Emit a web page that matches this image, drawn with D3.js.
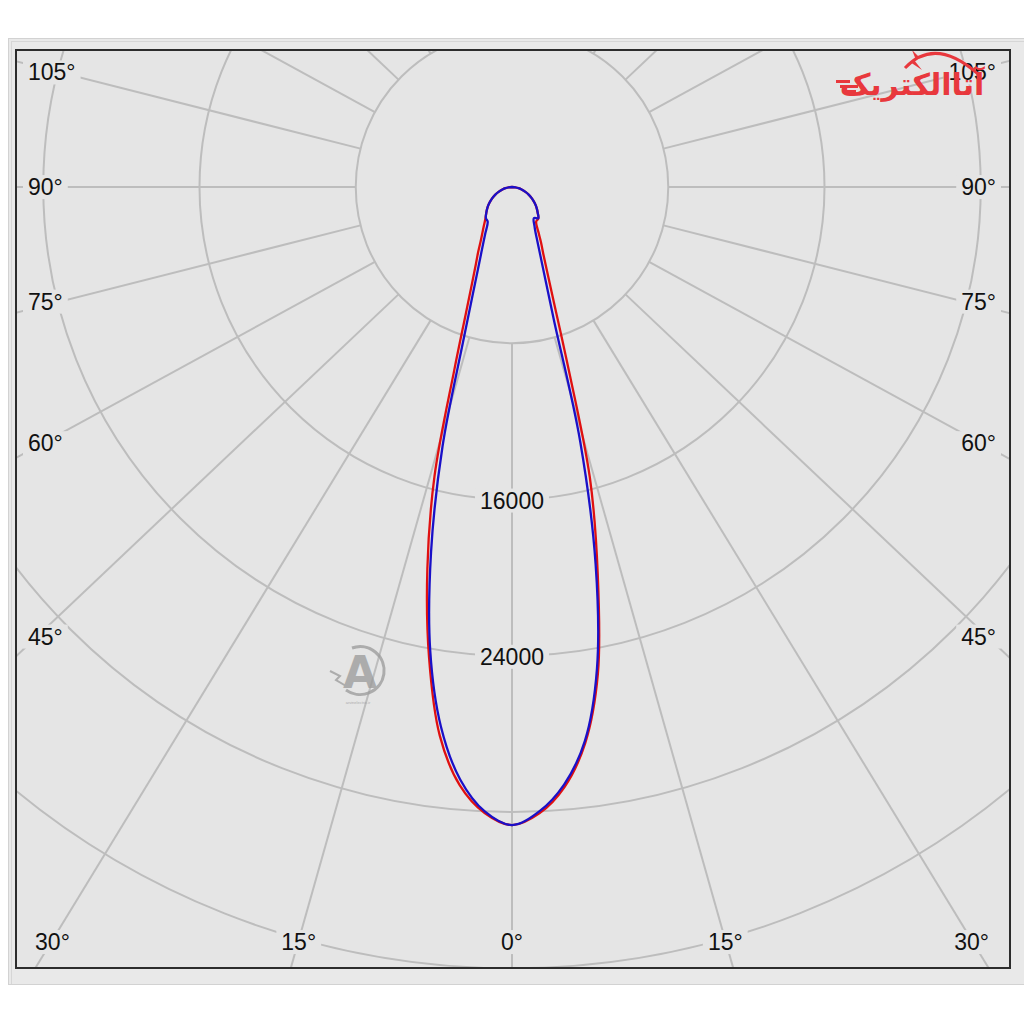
<!DOCTYPE html>
<html><head><meta charset="utf-8">
<script src="https://cdn.jsdelivr.net/npm/d3@7"></script>
<style>html,body{margin:0;padding:0;background:#fff;}svg{display:block}</style>
</head><body><svg id="chart" width="1024" height="1024"></svg>
<script>
// ---- data (luminous intensity, cd) ----
const angles   = [0,2.5,5,7.5,10,12.5,15,17.5,20,22.5,25,27.5,30,35,40,45,50,55,60,65,70,75,80,85,90];
const redC0    = [32670,32100,30840,28720,25320,20280,15400,9320,6260,4720,3800,3230,2740,2160,2100,1860,1640,1410,1185,955,730,510,340,170,0];
const redC180  = [32670,32080,30740,28330,24460,20020,15330,9830,6920,5350,4390,3750,3210,2550,2120,1860,1640,1410,1185,955,730,510,340,170,0];
const blueC90  = [32670,32000,30700,28600,25050,19780,13500,7125,4940,3790,3080,2600,2300,1950,2090,1860,1640,1410,1185,955,730,510,340,170,0];
const blueC270 = [32670,32000,30450,27870,24110,19150,13740,8365,5900,4555,3720,3150,2725,2170,2080,1860,1640,1410,1185,955,730,510,340,170,0];
const rings      = [8000,16000,24000,32000,40000];
const ringLabels = [16000,24000];
const spokeAngles = [0,15,30,45,60,75,90,105,120,135,150,165];
const angleTicks  = [0,15,30,45,60,75,90,105];

// ---- layout ----
const svg = d3.select("#chart");
const cx = 512, cy = 187;
const frame = {x0:16, y0:50, x1:1010, y1:968};
const spokeAspect = 1.057;
const r = d3.scaleLinear().domain([0,8000]).range([0,156.25]);
const gridColor = "#bdbdbd", plotBg = "#e5e5e5";
const font = "'Liberation Sans', Arial, sans-serif";

// panel
svg.append("rect").attr("x",8.5).attr("y",38.5).attr("width",1030).attr("height",946)
  .attr("fill","#e9e9e9").attr("stroke","#d2d2d2");
svg.append("line").attr("x1",11.5).attr("x2",11.5).attr("y1",41).attr("y2",984).attr("stroke","#d6d6d6");
svg.append("line").attr("x1",11).attr("x2",1024).attr("y1",41.5).attr("y2",41.5).attr("stroke","#d6d6d6");

svg.append("defs").append("clipPath").attr("id","clip").append("rect")
  .attr("x",frame.x0).attr("y",frame.y0).attr("width",frame.x1-frame.x0).attr("height",frame.y1-frame.y0);
svg.append("rect").attr("x",frame.x0).attr("y",frame.y0).attr("width",frame.x1-frame.x0).attr("height",frame.y1-frame.y0)
  .attr("fill",plotBg);

const plot = svg.append("g").attr("clip-path","url(#clip)");
const g = plot.append("g").attr("transform",`translate(${cx},${cy})`);

// rings
g.selectAll("circle.ring").data(rings).join("circle").attr("class","ring")
  .attr("r",d=>r(d)).attr("fill","none").attr("stroke",gridColor).attr("stroke-width",2);

// spokes (start at first ring)
const spokeDirs = [];
spokeAngles.forEach(a=>{ (a===0?[1]:[-1,1]).forEach(s=>spokeDirs.push({a,s})); });
function dirOf(a,s){ const t=a*Math.PI/180; const dx=s*spokeAspect*Math.sin(t), dy=Math.cos(t); const L=Math.hypot(dx,dy); return [dx/L,dy/L]; }
g.selectAll("line.spoke").data(spokeDirs).join("line").attr("class","spoke")
  .attr("x1",d=>dirOf(d.a,d.s)[0]*r(rings[0])).attr("y1",d=>dirOf(d.a,d.s)[1]*r(rings[0]))
  .attr("x2",d=>dirOf(d.a,d.s)[0]*1400).attr("y2",d=>dirOf(d.a,d.s)[1]*1400)
  .attr("stroke",gridColor).attr("stroke-width",2);

// labels with background boxes
const labelLayer = plot.append("g");
function addLabel(x,y,txt,anchor){
  const gg = labelLayer.append("g");
  const rect = gg.append("rect").attr("fill",plotBg);
  const t = gg.append("text").attr("x",x).attr("y",y).attr("dy","0.35em").attr("text-anchor",anchor)
    .attr("font-family",font).attr("font-size",23).attr("fill","#111").text(txt);
  const b = t.node().getBBox();
  rect.attr("x",b.x-5).attr("y",b.y+1).attr("width",b.width+10).attr("height",b.height-2);
}
ringLabels.forEach(v=>addLabel(cx, cy+r(v)+1, String(v), "middle"));

angleTicks.forEach(a=>{
  (a===0?[1]:[-1,1]).forEach(s=>{
    const t=a*Math.PI/180; const dx=spokeAspect*Math.sin(t), dy=Math.cos(t);
    const ySide = dx>1e-9 ? cy + (cx-frame.x0)/dx*dy : Infinity;
    if (a>0 && ySide < frame.y1-30){
      let y = ySide + (ySide>cy+0.5 ? -1 : (ySide<cy-0.5 ? 1 : 0))*(8 + 0.025*Math.abs(ySide-cy));
      addLabel(s<0?28:996, y, a+"°", s<0?"start":"end");
    } else {
      const x = cx + s*(940-cy)*dx/dy;
      addLabel(x, 942, a+"°", "middle");
    }
  });
});

// intensity curves
function curvePoints(rightVals, leftVals){
  const pts=[];
  for(let i=angles.length-1;i>=0;i--) pts.push({a:Math.PI-angles[i]*Math.PI/180, v:rightVals[i]});
  for(let i=1;i<angles.length;i++) pts.push({a:Math.PI+angles[i]*Math.PI/180, v:leftVals[i]});
  return pts;
}
const radial = d3.lineRadial().angle(d=>d.a).radius(d=>r(d.v)).curve(d3.curveCatmullRom.alpha(0.5));
g.append("path").attr("d",radial(curvePoints(redC0,redC180))).attr("fill","none")
  .attr("stroke","#e01010").attr("stroke-width",2.3);
g.append("path").attr("d",radial(curvePoints(blueC90,blueC270))).attr("fill","none")
  .attr("stroke","#1a10c8").attr("stroke-width",2.3);

// watermark (centre-left)
const wm = svg.append("g").attr("opacity",0.75);
wm.append("text").attr("x",360).attr("y",688).attr("text-anchor","middle").attr("font-family","'DejaVu Sans', sans-serif")
  .attr("font-weight","bold").attr("font-size",44).attr("fill","#9a9a9a").text("A");
wm.append("path").attr("d","M352,648 A24,24 0 1,1 346,690").attr("fill","none").attr("stroke","#9a9a9a").attr("stroke-width",3);
wm.append("path").attr("d","M330,671 L340,676 L336,680 L346,686").attr("fill","none").attr("stroke","#9a9a9a").attr("stroke-width",2);
wm.append("text").attr("x",358).attr("y",704).attr("text-anchor","middle").attr("font-family",font)
  .attr("font-size",4).attr("fill","#9a9a9a").text("arvinelectric.ir");

// logo (top-right)
const logo = svg.append("g");
logo.append("path").attr("d","M905,68 Q935,36 978,74").attr("fill","none").attr("stroke","#e8383d").attr("stroke-width",3);
logo.append("path").attr("d","M912,50 L920,58 L914,60 L922,70 L910,62 L916,60 Z").attr("fill","#e8383d");
logo.append("text").attr("x",912).attr("y",95).attr("text-anchor","middle").attr("font-family","'DejaVu Sans', sans-serif")
  .attr("font-weight","bold").attr("font-size",30).attr("fill","#e8383d").text("آتاالکتریک");
[[836,80,14],[840,85,18],[844,90,12]].forEach(([x,y,w])=>logo.append("rect").attr("x",x).attr("y",y).attr("width",w).attr("height",3).attr("fill","#e8383d"));

// frame
svg.append("rect").attr("x",frame.x0).attr("y",frame.y0).attr("width",frame.x1-frame.x0).attr("height",frame.y1-frame.y0)
  .attr("fill","none").attr("stroke","#2c2c2c").attr("stroke-width",2);
</script></body></html>
